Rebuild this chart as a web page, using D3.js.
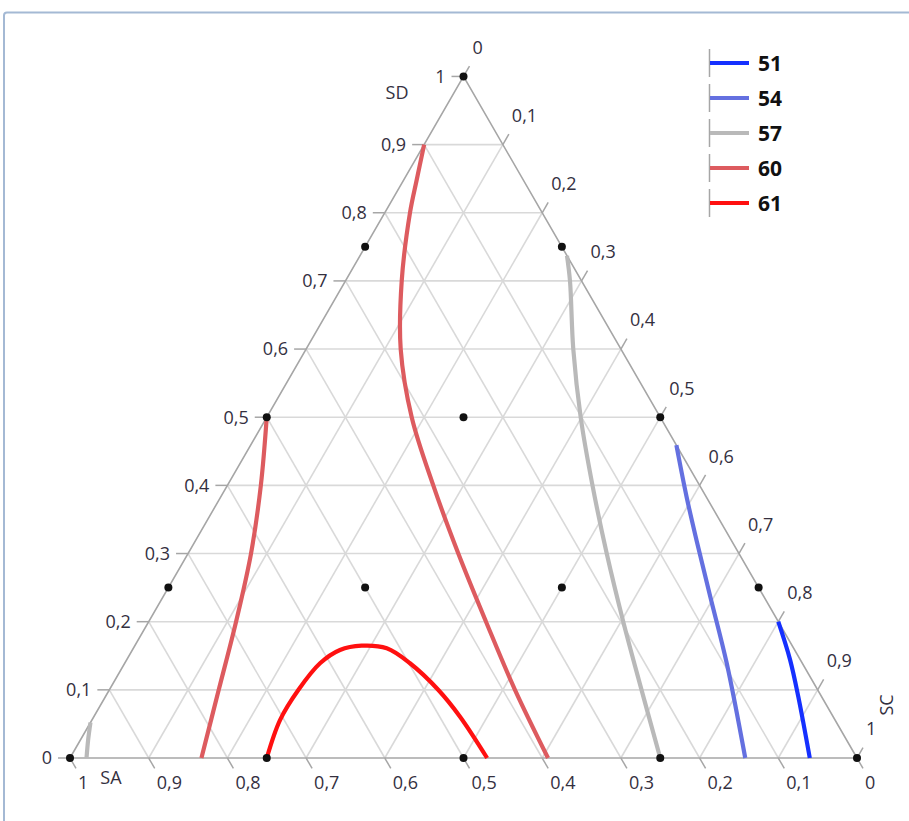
<!DOCTYPE html>
<html>
<head>
<meta charset="utf-8">
<script src="https://cdn.jsdelivr.net/npm/d3@7"></script>
<style>
  html, body { margin: 0; padding: 0; background: #fff; }
  svg { display: block; }
</style>
</head>
<body>
<svg id="chart" width="909" height="821"></svg>
<script>
// ---- Axis ticks (decimal comma) ----
const tickValues = [0, 0.1, 0.2, 0.3, 0.4, 0.5, 0.6, 0.7, 0.8, 0.9, 1];
const tickLabels = ["0", "0,1", "0,2", "0,3", "0,4", "0,5", "0,6", "0,7", "0,8", "0,9", "1"];

// ---- Mixture design points, each [SA, SD, SC] ----
const designPoints = [
  [0, 1, 0],
  [0.25, 0.75, 0], [0, 0.75, 0.25],
  [0.5, 0.5, 0], [0.25, 0.5, 0.25], [0, 0.5, 0.5],
  [0.75, 0.25, 0], [0.5, 0.25, 0.25], [0.25, 0.25, 0.5], [0, 0.25, 0.75],
  [1, 0, 0], [0.75, 0, 0.25], [0.5, 0, 0.5], [0.25, 0, 0.75], [0, 0, 1]
];

// ---- Contour levels ----
const levels = ["51", "54", "57", "60", "61"];
const levelColors = ["#1530ff", "#6470e0", "#b9b9b9", "#dd5b5f", "#ff1010"];

// Contour paths, each point [SA, SD, SC]
const contour51 = [[0, 0.2, 0.8], [0.013, 0.144, 0.843], [0.0296, 0.09, 0.8804], [0.06, 0, 0.94]];
const contour54 = [[0, 0.459, 0.541], [0.025, 0.383, 0.592], [0.044, 0.32, 0.636], [0.068, 0.237, 0.695],
                   [0.096, 0.139, 0.765], [0.142, 0, 0.858]];
const contour57a = [[0, 0.737, 0.263], [0.0147, 0.7, 0.2853], [0.0605, 0.6, 0.3395], [0.1011, 0.5, 0.3989],
                    [0.1361, 0.4, 0.4639], [0.168, 0.3, 0.532], [0.197, 0.2, 0.603], [0.2238, 0.1, 0.6762],
                    [0.25, 0, 0.75]];
const contour57b = [[0.979, 0, 0.021], [0.964, 0.026, 0.01], [0.948, 0.052, 0]];
const contour60a = [[0.1, 0.9, 0], [0.1355, 0.848, 0.0165], [0.168, 0.8, 0.032], [0.2285, 0.7, 0.0715],
                    [0.2798, 0.6, 0.1202], [0.3158, 0.5, 0.1842], [0.3384, 0.4, 0.2616], [0.3566, 0.3, 0.3434],
                    [0.3714, 0.2, 0.4286], [0.3846, 0.1, 0.5154], [0.3926, 0, 0.6074]];
const contour60b = [[0.5, 0.5, 0], [0.5575, 0.4, 0.0425], [0.62, 0.3, 0.08], [0.689, 0.2, 0.111],
                    [0.761, 0.1, 0.139], [0.833, 0, 0.167]];
const contour61 = [[0.75, 0, 0.25], [0.705, 0.0557, 0.239], [0.66, 0.0998, 0.2402], [0.6128, 0.139, 0.2482],
                   [0.5777, 0.1585, 0.2638], [0.547, 0.1648, 0.2882], [0.517, 0.161, 0.322],
                   [0.4985, 0.139, 0.3625], [0.482, 0.0998, 0.4182], [0.4741, 0.0606, 0.4653], [0.47, 0, 0.53]];

const contourLines = [
  { level: "51", pts: contour51 },
  { level: "54", pts: contour54 },
  { level: "57", pts: contour57a },
  { level: "57", pts: contour57b },
  { level: "60", pts: contour60a },
  { level: "60", pts: contour60b },
  { level: "61", pts: contour61 }
];

// ---- Geometry: equilateral triangle, SA bottom-left, SC bottom-right, SD top ----
const side = 787;
const triH = side * Math.sqrt(3) / 2;
const xs = d3.scaleLinear().domain([0, 1]).range([70, 857]);
const ys = d3.scaleLinear().domain([0, 1]).range([758, 758 - triH]);
const color = d3.scaleOrdinal().domain(levels).range(levelColors);

// [SA, SD, SC] -> pixel
const toXY = p => [xs(p[2] + p[1] / 2), ys(p[1])];

const svg = d3.select("#chart");
const font = "'Open Sans', 'Noto Sans', sans-serif";
const textColor = "#34303f";

// panel frame
svg.append("rect")
  .attr("x", 4).attr("y", 12.5).attr("width", 940).attr("height", 840).attr("rx", 3)
  .attr("fill", "none").attr("stroke", "#a4b9d4").attr("stroke-width", 2);

const lineGen = d3.line();

// grid lines
const gridVals = tickValues.filter(v => v > 0 && v < 1);
const gridSegs = [];
gridVals.forEach(v => {
  gridSegs.push([[1 - v, v, 0], [0, v, 1 - v]]);       // constant SD
  gridSegs.push([[1 - v, 0, v], [0, 1 - v, v]]);       // constant SC
  gridSegs.push([[v, 0, 1 - v], [v, 1 - v, 0]]);       // constant SA
});
svg.append("g").selectAll("path").data(gridSegs).join("path")
  .attr("d", d => lineGen(d.map(toXY)))
  .attr("fill", "none").attr("stroke", "#d9d9d9").attr("stroke-width", 1.6);

// triangle outline
svg.append("path")
  .attr("d", lineGen([[1, 0, 0], [0, 1, 0], [0, 0, 1]].map(toXY)) + "Z")
  .attr("fill", "none").attr("stroke", "#a6a6a6").attr("stroke-width", 1.6);

// ticks and tick labels
const tickLen = 12;
const c60 = 0.5, s60 = Math.sqrt(3) / 2;
const axisG = svg.append("g").attr("stroke", "#a6a6a6").attr("stroke-width", 1.5);
const labelG = svg.append("g")
  .attr("font-family", font).attr("font-size", 18).attr("fill", textColor);

tickValues.forEach((v, i) => {
  // SD axis on left edge
  const pd = toXY([1 - v, v, 0]);
  axisG.append("line").attr("x1", pd[0] - tickLen).attr("y1", pd[1]).attr("x2", pd[0]).attr("y2", pd[1]);
  labelG.append("text").attr("x", pd[0] - 18).attr("y", pd[1]).attr("dy", "0.35em")
    .attr("text-anchor", "end").text(tickLabels[i]);

  // SC axis on right edge
  const pc = toXY([0, 1 - v, v]);
  axisG.append("line").attr("x1", pc[0]).attr("y1", pc[1])
    .attr("x2", pc[0] + tickLen * c60).attr("y2", pc[1] - tickLen * s60);
  labelG.append("text").attr("x", pc[0] + 9).attr("y", pc[1] - 29).attr("dy", "0.35em")
    .text(tickLabels[i]);

  // SA axis on bottom edge
  const pa = toXY([v, 0, 1 - v]);
  axisG.append("line").attr("x1", pa[0]).attr("y1", pa[1])
    .attr("x2", pa[0] + tickLen * c60).attr("y2", pa[1] + tickLen * s60);
  labelG.append("text").attr("x", pa[0] + 8).attr("y", 783).attr("dy", "0.35em")
    .text(tickLabels[i]);
});

// axis titles
labelG.append("text").attr("x", 397).attr("y", 93).attr("dy", "0.35em")
  .attr("text-anchor", "middle").text("SD");
labelG.append("text").attr("x", 111).attr("y", 778).attr("dy", "0.35em")
  .attr("text-anchor", "middle").text("SA");
labelG.append("text").attr("transform", "translate(887,705) rotate(-90)").attr("dy", "0.35em")
  .attr("text-anchor", "middle").text("SC");

// contour lines
const smooth = d3.line().curve(d3.curveCatmullRom.alpha(0.5));
svg.append("g").selectAll("path").data(contourLines).join("path")
  .attr("d", d => smooth(d.pts.map(toXY)))
  .attr("fill", "none")
  .attr("stroke", d => color(d.level))
  .attr("stroke-width", 4.2)
  .attr("stroke-linecap", "butt");

// design points
svg.append("g").selectAll("circle").data(designPoints).join("circle")
  .attr("cx", d => toXY(d)[0]).attr("cy", d => toXY(d)[1])
  .attr("r", 4).attr("fill", "#111");

// legend
const ly = d3.scalePoint().domain(levels).range([63, 203]);
const leg = svg.append("g");
levels.forEach(l => {
  const y = ly(l);
  leg.append("line").attr("x1", 709.5).attr("x2", 709.5).attr("y1", y - 14).attr("y2", y + 14)
    .attr("stroke", "#a6a6a6").attr("stroke-width", 1.5);
  leg.append("line").attr("x1", 710).attr("x2", 749).attr("y1", y).attr("y2", y)
    .attr("stroke", color(l)).attr("stroke-width", 4);
  leg.append("text").attr("x", 758).attr("y", y).attr("dy", "0.36em")
    .attr("font-family", font).attr("font-size", 21).attr("font-weight", "bold")
    .attr("fill", "#111").text(l);
});
</script>
</body>
</html>
